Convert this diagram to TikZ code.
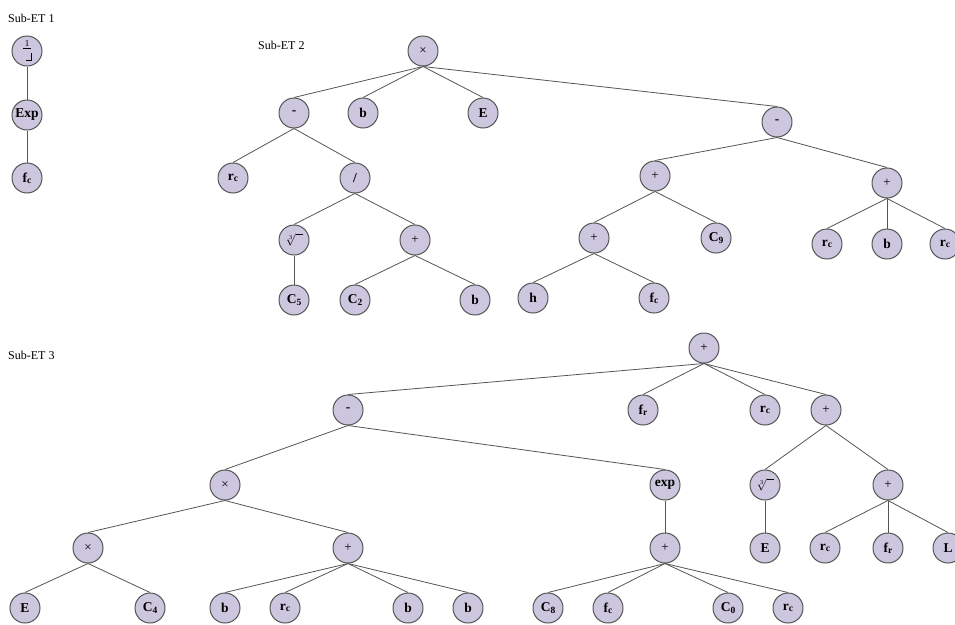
\documentclass[tikz,border=0pt]{standalone}
\usepackage{amsmath,amssymb}
\usepackage{fontspec}
\setmainfont{Liberation Serif}
\definecolor{etFill}{RGB}{204,198,222}
\definecolor{etLine}{RGB}{85,85,85}
\usetikzlibrary{positioning}
\newcommand{\lowsub}[1]{\raisebox{-1.2pt}{\fontsize{9.5}{9.5}\selectfont #1}}
\newcommand{\invsym}{\shortstack{\fontsize{9}{9}\selectfont 1\\[-1.5pt]%
  \rule{9pt}{0.5pt}\\[1pt]\makebox[9pt][r]{\rule{5pt}{0.5pt}\rule{0.5pt}{8pt}}}}

\begin{document}
\begin{tikzpicture}[
    x=1pt, y=-1pt,
    et/.style={circle, draw=etLine, fill=etFill, line width=1pt,
               minimum size=30pt, inner sep=0pt,
               font=\fontsize{13.5}{13.5}\selectfont\bfseries},
    op/.style={et, font=\fontsize{13}{13}\selectfont},
    link/.style={draw=etLine, line width=0.8pt},
    lbl/.style={anchor=west, inner sep=0pt, font=\fontsize{12}{12}\selectfont},
  ]
    \useasboundingbox (0,0) rectangle (955,624);

    % Sub-ET 1
    \node[lbl] (lblA) at (8,18) {Sub-ET 1};
    \node[op] (invA) at (27,51) {\invsym};
    \node[et] (expA) at (27,115) {Exp};
    \node[et] (fcA) at (27,178) {f\lowsub{c}};

    % Sub-ET 2
    \node[lbl] (lblB) at (258,45) {Sub-ET 2};
    \node[op] (mulB) at (423,51) {×};
    \node[et] (minB) at (294,113) {-};
    \node[et] (bB) at (363,113) {b};
    \node[et] (eB) at (483,113) {E};
    \node[et] (minC) at (777,122) {-};
    \node[et] (rcB) at (233,178) {r\lowsub{c}};
    \node[et] (divB) at (355,178) {/};
    \node[op] (cbrtB) at (294,240) {$\sqrt[3]{\vphantom{A}\phantom{x}}$};
    \node[op] (plusB) at (415,240) {+};
    \node[et] (cfiveB) at (294,300) {C\lowsub{5}};
    \node[et] (ctwoB) at (355,300) {C\lowsub{2}};
    \node[et] (bC) at (475,300) {b};
    \node[op] (plusC) at (655,176) {+};
    \node[op] (plusD) at (887,183) {+};
    \node[op] (plusE) at (594,238) {+};
    \node[et] (cnineB) at (716,238) {C\lowsub{9}};
    \node[et] (hB) at (533,298) {h};
    \node[et] (fcB) at (654,298) {f\lowsub{c}};
    \node[et] (rcC) at (827,244) {r\lowsub{c}};
    \node[et] (bD) at (887,244) {b};
    \node[et] (rcD) at (945,244) {r\lowsub{c}};

    % Sub-ET 3
    \node[lbl] (lblC) at (8,355) {Sub-ET 3};
    \node[op] (plusF) at (704,348) {+};
    \node[et] (minD) at (348,410) {-};
    \node[et] (frF) at (643,410) {f\lowsub{r}};
    \node[et] (rcF) at (765,410) {r\lowsub{c}};
    \node[op] (plusG) at (826,410) {+};
    \node[op] (mulF) at (225,485) {×};
    \node[et] (expF) at (665,485) {exp};
    \node[op] (mulG) at (88,548) {×};
    \node[op] (plusH) at (348,548) {+};
    \node[et] (eF) at (25,608) {E};
    \node[et] (cfourF) at (150,608) {C\lowsub{4}};
    \node[et] (bF) at (225,608) {b};
    \node[et] (rcG) at (285,608) {r\lowsub{c}};
    \node[et] (bG) at (408,608) {b};
    \node[et] (bH) at (468,608) {b};
    \node[op] (plusI) at (665,548) {+};
    \node[et] (ceightF) at (548,608) {C\lowsub{8}};
    \node[et] (fcF) at (608,608) {f\lowsub{c}};
    \node[et] (czeroF) at (728,608) {C\lowsub{0}};
    \node[et] (rcH) at (788,608) {r\lowsub{c}};
    \node[op] (cbrtF) at (765,485) {$\sqrt[3]{\vphantom{A}\phantom{x}}$};
    \node[op] (plusJ) at (888,485) {+};
    \node[et] (eG) at (765,548) {E};
    \node[et] (rcI) at (825,548) {r\lowsub{c}};
    \node[et] (frG) at (888,548) {f\lowsub{r}};
    \node[et] (lG) at (948,548) {L};

    % links, parent to child
    \foreach \p/\c in {invA/expA, expA/fcA,
        mulB/minB, mulB/bB, mulB/eB, mulB/minC,
        minB/rcB, minB/divB, divB/cbrtB, divB/plusB, cbrtB/cfiveB,
        plusB/ctwoB, plusB/bC,
        minC/plusC, minC/plusD, plusC/plusE, plusC/cnineB,
        plusE/hB, plusE/fcB, plusD/rcC, plusD/bD, plusD/rcD,
        plusF/minD, plusF/frF, plusF/rcF, plusF/plusG,
        minD/mulF, minD/expF, mulF/mulG, mulF/plusH,
        mulG/eF, mulG/cfourF,
        plusH/bF, plusH/rcG, plusH/bG, plusH/bH,
        expF/plusI, plusI/ceightF, plusI/fcF, plusI/czeroF, plusI/rcH,
        plusG/cbrtF, plusG/plusJ, cbrtF/eG,
        plusJ/rcI, plusJ/frG, plusJ/lG}
      \draw[link] (\p.south) -- (\c.north);
  \end{tikzpicture}
\end{document}
